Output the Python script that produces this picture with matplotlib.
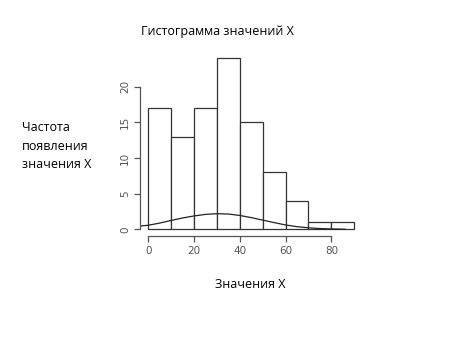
import numpy as np
import matplotlib.pyplot as plt

# histogram bins and counts
bin_edges = [0, 10, 20, 30, 40, 50, 60, 70, 80, 90]
counts = [17, 13, 17, 24, 15, 8, 4, 1, 1]

# fitted curve
curve_x = [-4, 0, 5, 10, 15, 20, 25, 30, 35, 40, 45, 50, 55, 60, 65, 70, 75, 80, 86]
curve_y = [0.46, 0.58, 0.88, 1.25, 1.6, 1.88, 2.1, 2.2, 2.15, 1.95, 1.65, 1.3,
           0.95, 0.62, 0.38, 0.22, 0.12, 0.06, 0.02]

x_ticks = [0, 20, 40, 60, 80]
y_ticks = [0, 5, 10, 15, 20]

plt.rcParams['font.family'] = ['Open Sans', 'DejaVu Sans']

fig = plt.figure(figsize=(4.56, 3.37), dpi=100)
ax = fig.add_axes([0.307, 0.299, 0.488, 0.549])

ax.hist(bin_edges[:-1], bins=bin_edges, weights=counts,
        facecolor='white', edgecolor='#333333', linewidth=0.9)
ax.plot(curve_x, curve_y, color='#222222', linewidth=0.9)

ax.set_xlim(-3.6, 93.6)
ax.set_ylim(-0.96, 24.96)

for s in ['top', 'right']:
    ax.spines[s].set_visible(False)
ax.spines['left'].set_bounds(0, 20)
ax.spines['bottom'].set_bounds(0, 80)
for s in ['left', 'bottom']:
    ax.spines[s].set_color('#555555')
    ax.spines[s].set_linewidth(0.9)

ax.set_xticks(x_ticks)
ax.set_yticks(y_ticks)
ax.tick_params(colors='#555555', labelsize=7.5, length=4, width=0.9, pad=3)
ax.tick_params(axis='y', labelrotation=90)
for lbl in ax.get_yticklabels():
    lbl.set_va('center')
for lbl in ax.get_xticklabels() + ax.get_yticklabels():
    lbl.set_family('DejaVu Sans')
    lbl.set_color('#555555')

fig.text(217 / 456, 1 - 32 / 337, 'Гистограмма значений X',
         ha='center', va='center', fontsize=9)
fig.text(250 / 456, 1 - 285 / 337, 'Значения X',
         ha='center', va='center', fontsize=9)
fig.text(22 / 456, 1 - 146 / 337, 'Частота\nпоявления\nзначения X',
         ha='left', va='center', fontsize=9, linespacing=1.55)

fig.savefig('out.png', dpi=100)
